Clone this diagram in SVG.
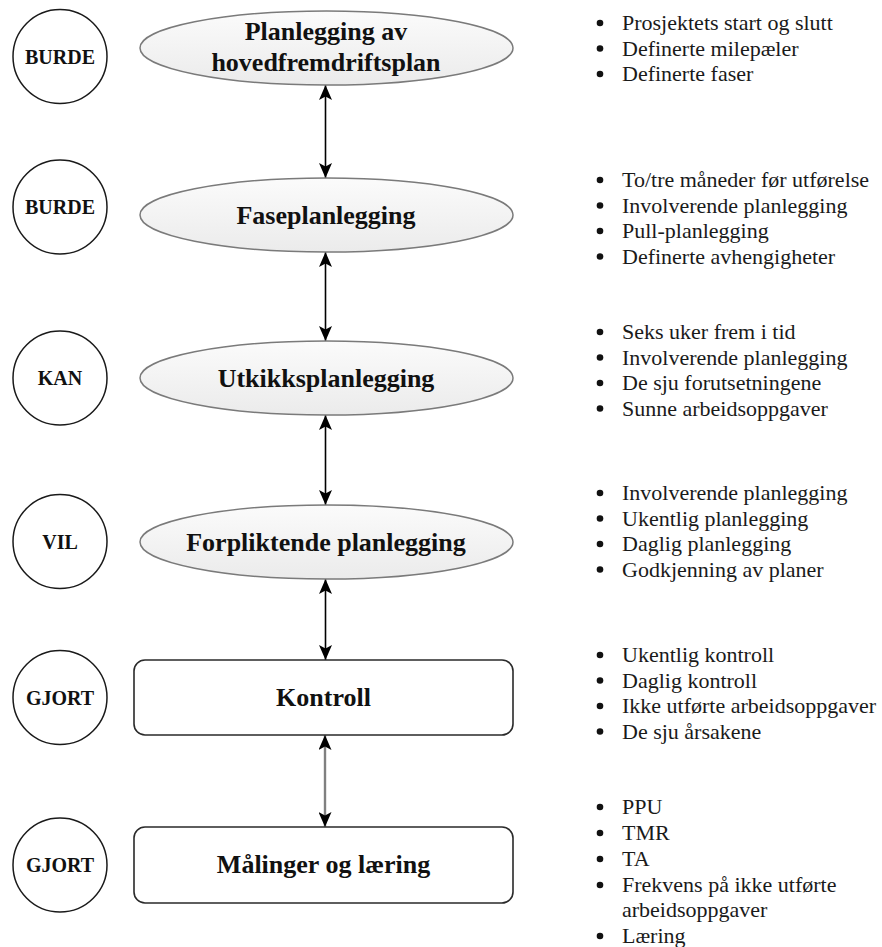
<svg xmlns="http://www.w3.org/2000/svg" width="882" height="947" viewBox="0 0 882 947">
  <style>
    .tag { fill: #ffffff; stroke: #1a1a1a; stroke-width: 1.5; }
    .tag-text { font-family: "Liberation Serif", "Times New Roman", serif; font-weight: bold; font-size: 20px; fill: #111; text-anchor: middle; }
    .stage { fill: url(#stageFill); stroke: #7a7a7a; stroke-width: 1.5; }
    .box { fill: #ffffff; stroke: #2a2a2a; stroke-width: 1.6; }
    .label { font-family: "Liberation Serif", "Times New Roman", serif; font-weight: bold; font-size: 26px; fill: #111; text-anchor: middle; }
    .item { font-family: "Liberation Serif", "Times New Roman", serif; font-size: 22px; fill: #1a1a1a; }
    .dot { fill: #111; }
    .link { stroke: #000; stroke-width: 1.6; fill: none; }
    .link-grey { stroke: #808080; stroke-width: 2.4; fill: none; }
  </style>
  <defs>
    <linearGradient id="stageFill" x1="0" y1="0" x2="0" y2="1">
      <stop offset="0" stop-color="#fbfbfb"/>
      <stop offset="1" stop-color="#ebebeb"/>
    </linearGradient>
    <marker id="head" viewBox="0 0 15 13" refX="15" refY="6.5" markerWidth="15" markerHeight="13" markerUnits="userSpaceOnUse" orient="auto-start-reverse">
      <path d="M0,0 L15,6.5 L0,13 L3.5,6.5 Z" fill="#000"/>
    </marker>
  </defs>

  <!-- connectors between stages -->
  <g id="connectors">
    <line class="link" x1="325.5" y1="85" x2="325.5" y2="178" marker-start="url(#head)" marker-end="url(#head)"/>
    <line class="link" x1="325.5" y1="252" x2="325.5" y2="341" marker-start="url(#head)" marker-end="url(#head)"/>
    <line class="link" x1="325.5" y1="415" x2="325.5" y2="505" marker-start="url(#head)" marker-end="url(#head)"/>
    <line class="link" x1="325.5" y1="579" x2="325.5" y2="660" marker-start="url(#head)" marker-end="url(#head)"/>
    <line class="link-grey" x1="325" y1="735" x2="325" y2="827" marker-start="url(#head)" marker-end="url(#head)"/>
  </g>

  <!-- status circles -->
  <g id="tag-1"><circle class="tag" cx="60" cy="56.5" r="47"/><text class="tag-text" x="60" y="63.5">BURDE</text></g>
  <g id="tag-2"><circle class="tag" cx="60" cy="207" r="47"/><text class="tag-text" x="60" y="214">BURDE</text></g>
  <g id="tag-3"><circle class="tag" cx="60" cy="378" r="47"/><text class="tag-text" x="60" y="385">KAN</text></g>
  <g id="tag-4"><circle class="tag" cx="60" cy="541.5" r="47"/><text class="tag-text" x="60" y="548.5">VIL</text></g>
  <g id="tag-5"><circle class="tag" cx="60" cy="697.5" r="47"/><text class="tag-text" x="60" y="704.5">GJORT</text></g>
  <g id="tag-6"><circle class="tag" cx="60" cy="865" r="47"/><text class="tag-text" x="60" y="872">GJORT</text></g>

  <!-- planning stages -->
  <g id="stage-master">
    <ellipse class="stage" cx="326.5" cy="48" rx="186.5" ry="37"/>
    <text class="label" x="326" y="40">Planlegging av</text>
    <text class="label" x="326" y="71">hovedfremdriftsplan</text>
  </g>
  <g id="stage-phase">
    <ellipse class="stage" cx="326.5" cy="215" rx="186.5" ry="37"/>
    <text class="label" x="326" y="224">Faseplanlegging</text>
  </g>
  <g id="stage-lookahead">
    <ellipse class="stage" cx="326.5" cy="378" rx="186.5" ry="37"/>
    <text class="label" x="326" y="387">Utkikksplanlegging</text>
  </g>
  <g id="stage-commit">
    <ellipse class="stage" cx="326.5" cy="542" rx="186.5" ry="37"/>
    <text class="label" x="326" y="551">Forpliktende planlegging</text>
  </g>
  <g id="stage-control">
    <rect class="box" x="134" y="660" width="379" height="75" rx="11"/>
    <text class="label" x="323.5" y="706">Kontroll</text>
  </g>
  <g id="stage-measure">
    <rect class="box" x="134" y="827" width="379" height="76" rx="11"/>
    <text class="label" x="323.5" y="873">Målinger og læring</text>
  </g>

  <!-- bullet lists -->
  <g id="list-master">
    <circle class="dot" cx="600" cy="23" r="3.3"/><text class="item" x="622" y="30">Prosjektets start og slutt</text>
    <circle class="dot" cx="600" cy="48.5" r="3.3"/><text class="item" x="622" y="55.5">Definerte milepæler</text>
    <circle class="dot" cx="600" cy="74" r="3.3"/><text class="item" x="622" y="81">Definerte faser</text>
  </g>
  <g id="list-phase">
    <circle class="dot" cx="600" cy="180" r="3.3"/><text class="item" x="622" y="187">To/tre måneder før utførelse</text>
    <circle class="dot" cx="600" cy="205.5" r="3.3"/><text class="item" x="622" y="212.5">Involverende planlegging</text>
    <circle class="dot" cx="600" cy="231" r="3.3"/><text class="item" x="622" y="238">Pull-planlegging</text>
    <circle class="dot" cx="600" cy="256.5" r="3.3"/><text class="item" x="622" y="263.5">Definerte avhengigheter</text>
  </g>
  <g id="list-lookahead">
    <circle class="dot" cx="600" cy="332" r="3.3"/><text class="item" x="622" y="339">Seks uker frem i tid</text>
    <circle class="dot" cx="600" cy="357.5" r="3.3"/><text class="item" x="622" y="364.5">Involverende planlegging</text>
    <circle class="dot" cx="600" cy="383" r="3.3"/><text class="item" x="622" y="390">De sju forutsetningene</text>
    <circle class="dot" cx="600" cy="408.5" r="3.3"/><text class="item" x="622" y="415.5">Sunne arbeidsoppgaver</text>
  </g>
  <g id="list-commit">
    <circle class="dot" cx="600" cy="493" r="3.3"/><text class="item" x="622" y="500">Involverende planlegging</text>
    <circle class="dot" cx="600" cy="518.5" r="3.3"/><text class="item" x="622" y="525.5">Ukentlig planlegging</text>
    <circle class="dot" cx="600" cy="544" r="3.3"/><text class="item" x="622" y="551">Daglig planlegging</text>
    <circle class="dot" cx="600" cy="569.5" r="3.3"/><text class="item" x="622" y="576.5">Godkjenning av planer</text>
  </g>
  <g id="list-control">
    <circle class="dot" cx="600" cy="655" r="3.3"/><text class="item" x="622" y="662">Ukentlig kontroll</text>
    <circle class="dot" cx="600" cy="680.5" r="3.3"/><text class="item" x="622" y="687.5">Daglig kontroll</text>
    <circle class="dot" cx="600" cy="706" r="3.3"/><text class="item" x="622" y="713">Ikke utførte arbeidsoppgaver</text>
    <circle class="dot" cx="600" cy="731.5" r="3.3"/><text class="item" x="622" y="738.5">De sju årsakene</text>
  </g>
  <g id="list-measure">
    <circle class="dot" cx="600" cy="807" r="3.3"/><text class="item" x="622" y="814">PPU</text>
    <circle class="dot" cx="600" cy="833" r="3.3"/><text class="item" x="622" y="840">TMR</text>
    <circle class="dot" cx="600" cy="859" r="3.3"/><text class="item" x="622" y="866">TA</text>
    <circle class="dot" cx="600" cy="885" r="3.3"/><text class="item" x="622" y="892">Frekvens på ikke utførte</text>
    <text class="item" x="622" y="917">arbeidsoppgaver</text>
    <circle class="dot" cx="600" cy="936" r="3.3"/><text class="item" x="622" y="943">Læring</text>
  </g>
</svg>
